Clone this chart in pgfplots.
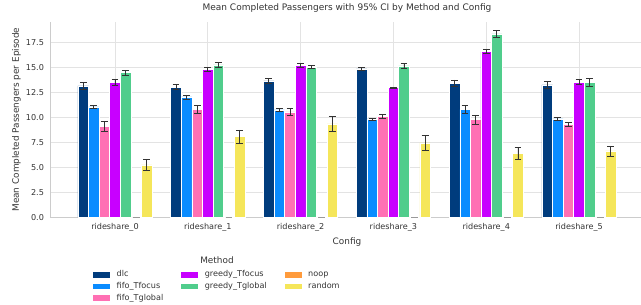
\documentclass[border=0pt]{standalone}
\usepackage{pgfplots}
\usepackage{pgfplotstable}
\pgfplotsset{compat=1.18}
\usepackage{fontspec}
\setmainfont{DejaVu Sans}
\definecolor{cdlc}{HTML}{003C7D}
\definecolor{cff}{HTML}{0A8CFF}
\definecolor{cfg}{HTML}{FF70B4}
\definecolor{cgf}{HTML}{C800FF}
\definecolor{cgg}{HTML}{50CD8C}
\definecolor{cnoop}{HTML}{FF9B3C}
\definecolor{crand}{HTML}{F5E65A}
\definecolor{gridc}{HTML}{E3E3E3}
\definecolor{spinec}{HTML}{CCCCCC}
\definecolor{txt}{HTML}{333333}

\pgfplotstableread{
x y e
0 13.15 0.36
1 13.02 0.26
2 13.65 0.27
3 14.85 0.13
4 13.42 0.33
5 13.25 0.33
}\tdlc
\pgfplotstableread{
x y e
0 11.05 0.15
1 12.05 0.2
2 10.75 0.15
3 9.85 0.1
4 10.8 0.36
5 9.85 0.12
}\tff
\pgfplotstableread{
x y e
0 9.1 0.46
1 10.8 0.37
2 10.55 0.32
3 10.1 0.2
4 9.8 0.45
5 9.3 0.2
}\tfg
\pgfplotstableread{
x y e
0 13.48 0.28
1 14.82 0.22
2 15.18 0.18
3 12.98 0.05
4 16.58 0.22
5 13.52 0.26
}\tgf
\pgfplotstableread{
x y e
0 14.48 0.26
1 15.25 0.28
2 15.02 0.16
3 15.15 0.25
4 18.35 0.32
5 13.48 0.38
}\tgg
\pgfplotstableread{
x y e
0 0 0
1 0 0
2 0 0
3 0 0
4 0 0
5 0 0
}\tnoop
\pgfplotstableread{
x y e
0 5.25 0.56
1 8.1 0.65
2 9.35 0.78
3 7.45 0.75
4 6.4 0.63
5 6.65 0.5
}\trand

\begin{document}
\begin{tikzpicture}[x=1pt,y=1pt]
\begin{axis}[
  at={(50pt,87.5pt)}, anchor=south west,
  scale only axis, width=594pt, height=195.8pt,
  xmin=-0.70, xmax=5.70, ymin=0, ymax=19.58,
  xtick={0,1,2,3,4,5},
  xticklabels={rideshare\_0,rideshare\_1,rideshare\_2,rideshare\_3,rideshare\_4,rideshare\_5},
  ytick={0,2.5,5,7.5,10,12.5,15,17.5},
  /pgf/number format/fixed, /pgf/number format/fixed zerofill, /pgf/number format/precision=1,
  /pgf/number format/assume math mode=true,
  ticklabel style={font=\fontsize{8.1}{9}\selectfont, text=txt},
  major tick length=0pt,
  xticklabel style={yshift=-2.5pt},
  yticklabel style={xshift=-2.5pt},
  grid=major,
  major grid style={gridc, line width=0.9pt},
  axis line style={spinec, line width=0.9pt},
  axis x line*=bottom, axis y line*=left,
  separate axis lines,
  title={Mean Completed Passengers with 95\% CI by Method and Config},
  title style={at={(axis description cs:0.5,1.0393)}, anchor=center, font=\fontsize{9}{10}\selectfont, text=txt},
  xlabel={Config},
  xlabel style={at={(axis description cs:0.5,-0.1236)}, anchor=center, font=\fontsize{8.9}{10}\selectfont, text=txt},
  ylabel={Mean Completed Passengers per Episode},
  ylabel style={at={(axis description cs:-0.0564,0.5)}, anchor=center, font=\fontsize{8.9}{10}\selectfont, text=txt},
  ybar, bar width=0.114,
  every axis plot/.append style={draw=white, line width=0.5pt},
  error bars/y dir=both, error bars/y explicit,
  error bars/error bar style={color=black!80, line width=0.9pt},
  error bars/error mark options={rotate=90, mark size=3.4pt, line width=0.9pt, color=black!80},
  legend image code/.code={\fill[#1] (0pt,-2.3pt) rectangle (16pt,2.3pt);},
  legend columns=3,
  legend cell align=left,
  legend style={at={(axis description cs:0.0724,-0.2656)}, anchor=north west, draw=none, fill=none,
    font=\fontsize{8.1}{9}\selectfont, text=txt, inner sep=0pt, row sep=2.1pt,
    nodes={inner ysep=1pt, inner xsep=3pt},
    /tikz/every odd column/.append style={column sep=4pt},
    /tikz/every even column/.append style={column sep=15pt}},
]
\addplot[fill=cdlc, bar shift=-0.342, forget plot] table[x=x,y=y,y error=e]{\tdlc};
\addplot[fill=cff, bar shift=-0.228, forget plot] table[x=x,y=y,y error=e]{\tff};
\addplot[fill=cfg, bar shift=-0.114, forget plot] table[x=x,y=y,y error=e]{\tfg};
\addplot[fill=cgf, bar shift=0, forget plot] table[x=x,y=y,y error=e]{\tgf};
\addplot[fill=cgg, bar shift=0.114, forget plot] table[x=x,y=y,y error=e]{\tgg};
\addplot[fill=cnoop, bar shift=0.228, forget plot,
  error bars/error bar style={color=black!40, line width=0.9pt},
  error bars/error mark options={rotate=90, mark size=3.4pt, line width=0.9pt, color=black!40}] table[x=x,y=y,y error=e]{\tnoop};
\addplot[fill=crand, bar shift=0.342, forget plot] table[x=x,y=y,y error=e]{\trand};
\addlegendimage{cdlc}\addlegendentry{dlc}
\addlegendimage{cgf}\addlegendentry{greedy\_Tfocus}
\addlegendimage{cnoop}\addlegendentry{noop}
\addlegendimage{cff}\addlegendentry{fifo\_Tfocus}
\addlegendimage{cgg}\addlegendentry{greedy\_Tglobal}
\addlegendimage{crand}\addlegendentry{random}
\addlegendimage{cfg}\addlegendentry{fifo\_Tglobal}
\end{axis}
\node[font=\fontsize{8.9}{10}\selectfont, text=txt] at (217,45) {Method};
\pgfresetboundingbox
\useasboundingbox (0,0) rectangle (641,305);
\end{tikzpicture}
\end{document}
